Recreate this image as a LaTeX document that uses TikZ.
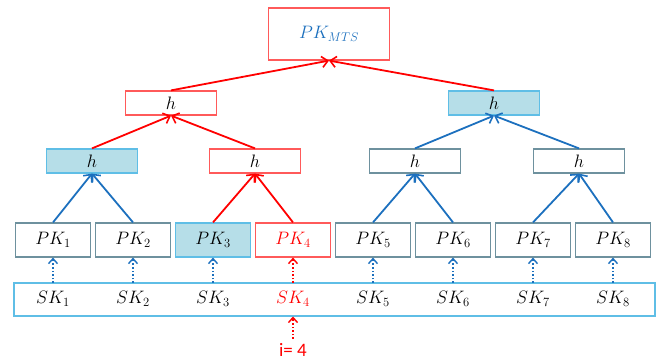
\RequirePackage{fix-cm}
\documentclass[tikz,border=0pt]{standalone}
\usepackage{fontspec}
\newfontfamily\calfont{Carlito}
\usetikzlibrary{arrows.meta}
\definecolor{cblue}{RGB}{28,112,190}
\definecolor{cred}{RGB}{255,0,0}
\definecolor{bred}{RGB}{255,90,90}
\definecolor{bgray}{RGB}{110,145,158}
\definecolor{bsky}{RGB}{95,190,230}
\definecolor{fsky}{RGB}{182,222,232}
\begin{document}
\begin{tikzpicture}[x=1pt,y=-1pt,
  box/.style={draw=bgray,line width=1.2pt,fill=white,inner sep=0pt,font=\fontsize{18}{21}\selectfont},
  hbox/.style={box,minimum width=91pt,minimum height=24pt},
  pkbox/.style={box,minimum width=75pt,minimum height=34pt},
  filled/.style={fill=fsky,draw=bsky},
  redb/.style={draw=bred},
  bl/.style={draw=cblue,line width=1.8pt,-{Straight Barb[length=6pt,width=11pt,line width=1.6pt]}},
  rl/.style={bl,draw=cred},
  dbl/.style={draw=cblue,line width=1.6pt,dotted,-{Straight Barb[length=5pt,width=9pt,line width=1.4pt]}},
  drl/.style={dbl,draw=cred}]
\useasboundingbox (0,0) rectangle (662,363);
\node[box,redb,minimum width=121pt,minimum height=52pt,font=\fontsize{18}{21}\selectfont] (top) at (329,34) {\color{cblue}$PK_{MTS}$};
\node[hbox,redb] (l2a) at (171,103) {$h$};
\node[hbox,filled] (l2b) at (494,103) {$h$};
\node[hbox,filled] (l3a) at (92,161) {$h$};
\node[hbox,redb] (l3b) at (255,161) {$h$};
\node[hbox] (l3c) at (415,161) {$h$};
\node[hbox] (l3d) at (579,161) {$h$};
\node[pkbox] (p1) at (53,240) {$PK_1$};
\node[pkbox] (p2) at (133,240) {$PK_2$};
\node[pkbox,filled] (p3) at (213,240) {$PK_3$};
\node[pkbox,redb] (p4) at (293,240) {\color{cred}$PK_4$};
\node[pkbox] (p5) at (373,240) {$PK_5$};
\node[pkbox] (p6) at (453,240) {$PK_6$};
\node[pkbox] (p7) at (533,240) {$PK_7$};
\node[pkbox] (p8) at (613,240) {$PK_8$};
\node[draw=bsky,line width=1.6pt,minimum width=641pt,minimum height=33pt,inner sep=0pt] (bar) at (334.5,299.5) {};
\foreach \i/\x in {1/53,2/133,3/213,5/373,6/453,7/533,8/613}{
  \node[font=\fontsize{18}{21}\selectfont] (s\i) at (\x,299) {$SK_{\i}$};
  \draw[dbl] (\x,283) coordinate (sb\i) -- (p\i.south);
}
\node[font=\fontsize{18}{21}\selectfont,text=cred] (s4) at (293,299) {$SK_4$};
\draw[drl] (293,283) coordinate (sb4) -- (p4.south);
\node[font=\calfont\fontsize{19}{22}\selectfont,text=cred] (idx) at (293,350) {i= 4};
\draw[drl] (293,339) coordinate (ib) -- (293,316.5);
\draw[bl] (p1.north) -- (l3a.south);
\draw[bl] (p2.north) -- (l3a.south);
\draw[rl] (p3.north) -- (l3b.south);
\draw[rl] (p4.north) -- (l3b.south);
\draw[bl] (p5.north) -- (l3c.south);
\draw[bl] (p6.north) -- (l3c.south);
\draw[bl] (p7.north) -- (l3d.south);
\draw[bl] (p8.north) -- (l3d.south);
\draw[rl] (l3a.north) -- (l2a.south);
\draw[rl] (l3b.north) -- (l2a.south);
\draw[bl] (l3c.north) -- (l2b.south);
\draw[bl] (l3d.north) -- (l2b.south);
\draw[rl] (l2a.north) -- (top.south);
\draw[rl] (l2b.north) -- (top.south);
\end{tikzpicture}
\end{document}
